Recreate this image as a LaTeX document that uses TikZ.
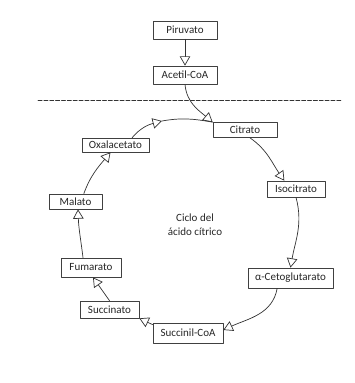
\documentclass[tikz,border=0pt]{standalone}
\usepackage{fontspec}
\setmainfont{Carlito}
\usetikzlibrary{arrows.meta}

\begin{document}
\begin{tikzpicture}[
				x=0.03cm, y=0.03cm,
				line cap=round,
				line join=round,
				every node/.style={font=\fontsize{9.4}{12}\selectfont, text=black!85},
				caja/.style={draw=black!75, line width=0.6pt, fill=white, inner sep=1pt},
				flecha/.style={draw=black!80, line width=0.6pt, -{Triangle[open, length=8pt, width=9pt]}},
				linea/.style={draw=black!80, line width=0.6pt}
				]
				% Frame
				\useasboundingbox (0,0) rectangle (354,383);
				
				% Boxes above the membrane
				\node[caja, minimum width=1.92cm, minimum height=0.54cm] (piruvato) at (185,353) {Piruvato};
				\node[caja, minimum width=1.92cm, minimum height=0.54cm] (acetil) at (185,308) {Acetil-CoA};
				
				% Membrane
				\draw[black!80, line width=0.6pt, dash pattern=on 3.5pt off 1.5pt] (38,283) -- (342,283);
				
				% Boxes of the cycle
				\node[caja, minimum width=1.92cm, minimum height=0.45cm] (citrato) at (245,253) {Citrato};
				\node[caja, minimum width=1.74cm, minimum height=0.48cm] (isocitrato) at (296,194) {Isocitrato};
				\node[caja, minimum width=2.55cm, minimum height=0.6cm] (cetoglutarato) at (290.5,105) {α-Cetoglutarato};
				\node[caja, minimum width=2.1cm, minimum height=0.6cm] (succinil) at (188,50) {Succinil-CoA};
				\node[caja, minimum width=1.77cm, minimum height=0.51cm] (succinato) at (109.5,73.5) {Succinato};
				\node[caja, minimum width=1.8cm, minimum height=0.57cm] (fumarato) at (91,115.5) {Fumarato};
				\node[caja, minimum width=1.59cm, minimum height=0.45cm] (malato) at (75.5,181.5) {Malato};
				\node[caja, minimum width=2.01cm, minimum height=0.42cm] (oxalacetato) at (115.5,238) {Oxalacetato};
				
				% Label in the middle
				\node[align=center] (ciclo) at (195,158) {Ciclo del\\ácido cítrico};
				
				% Arrows
				\coordinate (arriba) at (162,262);
				\draw[flecha] (piruvato) -- (acetil);
				\draw[flecha] (acetil.south) to[out=-85, in=140] (citrato.north west);
				\draw[flecha] ([xshift=0.5cm]oxalacetato.north) to[out=50, in=195] (arriba);
				\draw[linea] (arriba) to[out=10, in=170] (citrato.north west);
				\draw[flecha] ([xshift=0.15cm]citrato.south) to[out=-35, in=125] ([xshift=-0.35cm]isocitrato.north);
				\draw[flecha] (isocitrato.south) to[out=-75, in=80] (cetoglutarato.north);
				\draw[flecha] ([xshift=-0.4cm]cetoglutarato.south) to[out=-100, in=25] ([yshift=0.09cm]succinil.east);
				\draw[flecha] ([yshift=-0.06cm]succinil.north west) -- (succinato.south east);
				\draw[flecha] (succinato.north) -- ([xshift=0.06cm]fumarato.south);
				\draw[flecha] ([xshift=-0.24cm]fumarato.north) to[out=97, in=-88] ([xshift=0.075cm]malato.south);
				\draw[flecha] ([xshift=0.25cm]malato.north) to[out=70, in=-130] ([xshift=-0.15cm]oxalacetato.south);
			\end{tikzpicture}
\end{document}
